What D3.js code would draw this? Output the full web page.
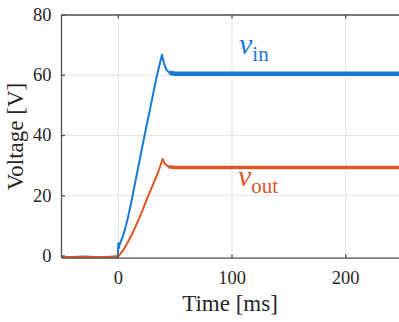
<!DOCTYPE html>
<html>
<head>
<meta charset="utf-8">
<script src="https://cdn.jsdelivr.net/npm/d3@7/dist/d3.min.js"></script>
<style>
  html, body { margin: 0; padding: 0; background: #fff; }
  svg, svg text, svg tspan { font-family: "Liberation Serif", Times, "Times New Roman", serif !important; }
</style>
</head>
<body>
<div id="chart"></div>
<script>
// time axis of the two traces (ms) and the read-off voltages (V)
const tIn  = [-50, -40, -30, -20, -10, -0.5, 0, 0.4, 1, 2, 4, 6, 8, 12, 17, 22, 28, 34, 38.4, 40, 42, 45, 50, 250];
const vIn  = [-0.3, -0.3, -0.2, -0.3, -0.3, -0.3, 4.2, 2.6, 3.6, 4.6, 6.6, 9, 12, 19, 28.5, 38, 49, 60, 66.8, 64.2, 62, 60.8, 60.5, 60.5];
const tOut = [-50, -40, -30, -20, -10, 0, 2, 5, 8, 12, 16, 20, 25, 30, 35, 39, 41, 44, 50, 250];
const vOut = [-0.3, -0.3, -0.3, -0.3, -0.3, 0, 0.8, 2.3, 4.3, 7.2, 10.5, 14, 18.8, 23.3, 27.8, 32.2, 30.6, 29.6, 29.4, 29.4];
// steady state starts here, the noisy part is drawn thicker
const steadyFrom = 44;

const xTicks = [0, 100, 200];
const yTicks = [0, 20, 40, 60, 80];

const width = 399, height = 322;
const blue = '#1679d6', orange = '#dc5526';
const serif = '"Liberation Serif", Times, serif';

const svg = d3.select('#chart').append('svg')
    .attr('width', width)
    .attr('height', height);

const x = d3.scaleLinear().domain([-50, 250]).range([61.5, 402.5]);
const y = d3.scaleLinear().domain([-0.7, 80]).range([258.1, 15]);

const zip = (t, v) => t.map((d, i) => [d, v[i]]);
const inPts = zip(tIn, vIn);
const outPts = zip(tOut, vOut);

// grid
const grid = svg.append('g').attr('stroke', '#e3e3e3').attr('stroke-width', 1);
grid.selectAll('.gx').data(xTicks).enter().append('line')
    .attr('x1', d => x(d)).attr('x2', d => x(d))
    .attr('y1', y.range()[0]).attr('y2', y.range()[1]);
grid.selectAll('.gy').data(yTicks.filter(d => d > 0 && d < 80)).enter().append('line')
    .attr('x1', x.range()[0]).attr('x2', x.range()[1])
    .attr('y1', d => y(d)).attr('y2', d => y(d));

// traces
const line = d3.line().x(d => x(d[0])).y(d => y(d[1]));
function trace(pts, color, thick) {
    svg.append('path').datum(pts)
        .attr('fill', 'none').attr('stroke', color)
        .attr('stroke-width', 2).attr('stroke-linejoin', 'round')
        .attr('d', line);
    svg.append('path').datum(pts.filter(d => d[0] >= steadyFrom))
        .attr('fill', 'none').attr('stroke', color)
        .attr('stroke-width', thick)
        .attr('d', line);
}
trace(inPts, blue, 4.5);
trace(outPts, orange, 3.5);

// axes box with inward ticks
const axisColor = '#4d4d4d';
const ax = svg.append('g').attr('stroke', axisColor).attr('stroke-width', 1.3).attr('fill', 'none');
ax.append('line').attr('x1', x.range()[0]).attr('x2', x.range()[1]).attr('y1', y.range()[0]).attr('y2', y.range()[0]);
ax.append('line').attr('x1', x.range()[0]).attr('x2', x.range()[1]).attr('y1', y.range()[1]).attr('y2', y.range()[1]);
ax.append('line').attr('x1', x.range()[0]).attr('x2', x.range()[0]).attr('y1', y.range()[0]).attr('y2', y.range()[1]);

ax.selectAll('.tb').data(xTicks).enter().append('line')
    .attr('x1', d => x(d)).attr('x2', d => x(d))
    .attr('y1', y.range()[0]).attr('y2', y.range()[0] - 3.5);
ax.selectAll('.tt').data(xTicks).enter().append('line')
    .attr('x1', d => x(d)).attr('x2', d => x(d))
    .attr('y1', y.range()[1]).attr('y2', y.range()[1] + 3.5);
ax.selectAll('.tl').data(yTicks).enter().append('line')
    .attr('x1', x.range()[0]).attr('x2', x.range()[0] + 3.5)
    .attr('y1', d => y(d)).attr('y2', d => y(d));

// tick labels
svg.selectAll('.xl').data(xTicks).enter().append('text')
    .attr('x', d => x(d)).attr('y', 283.5)
    .attr('text-anchor', 'middle')
    .style('font-family', serif)
    .style('font-size', '18.5px').attr('fill', '#262626')
    .text(d => d);
svg.selectAll('.yl').data(yTicks).enter().append('text')
    .attr('x', 51.5).attr('y', d => y(d) + 6)
    .attr('text-anchor', 'end')
    .style('font-family', serif)
    .style('font-size', '18.5px').attr('fill', '#262626')
    .text(d => d);

// axis titles
svg.append('text')
    .attr('x', (x(-50) + 402.5) / 2 - 2).attr('y', 311)
    .attr('text-anchor', 'middle')
    .style('font-family', serif)
    .style('font-size', '23px').attr('fill', '#262626')
    .text('Time [ms]');
svg.append('text')
    .attr('transform', `translate(23,${(y.range()[0] + y.range()[1]) / 2}) rotate(-90)`)
    .attr('text-anchor', 'middle')
    .style('font-family', serif)
    .style('font-size', '23px').attr('fill', '#262626')
    .text('Voltage [V]');

// trace labels
function label(px, py, sub, color) {
    const t = svg.append('text').attr('x', px).attr('y', py).attr('fill', color)
        .style('font-family', serif);
    t.append('tspan').style('font-style', 'italic').style('font-size', '30px').text('v');
    t.append('tspan').style('font-size', '21px').attr('dy', 7).text(sub);
}
label(239, 54, 'in', blue);
label(238, 186, 'out', orange);
</script>
</body>
</html>
